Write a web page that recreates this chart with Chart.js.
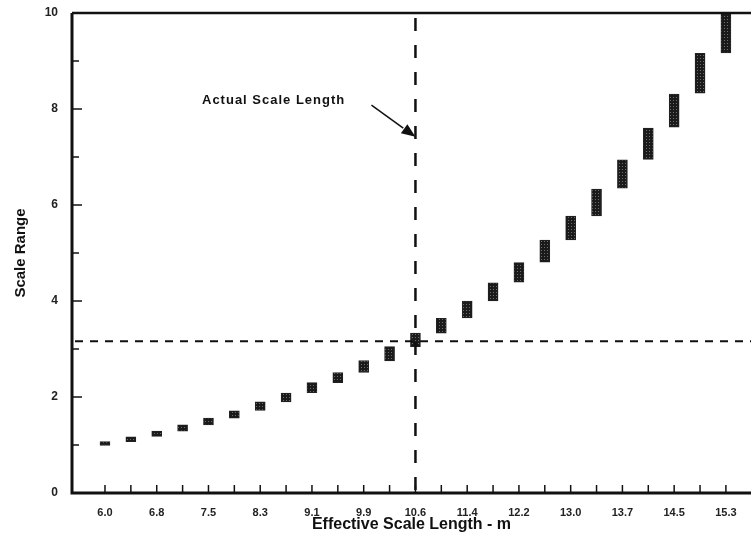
<!DOCTYPE html>
<html>
<head>
<meta charset="utf-8">
<title>Scale Range vs Effective Scale Length</title>
<script src="https://cdn.jsdelivr.net/npm/chart.js@4.4.1/dist/chart.umd.min.js"></script>
<style>
  html, body { margin: 0; padding: 0; background: #fff; }
</style>
</head>
<body>
<canvas id="scaleChart" width="751" height="550"></canvas>
<script>
// tick labels on the x axis, one for every second bar (m)
const lengthLabels = ['6.0', '6.8', '7.5', '8.3', '9.1', '9.9', '10.6', '11.4', '12.2', '13.0', '13.7', '14.5', '15.3'];

// bottom and top of each range bar
const rangeLow  = [0.99, 1.07, 1.18, 1.29, 1.42, 1.56, 1.72, 1.90, 2.09, 2.30, 2.51, 2.75, 3.05,
                   3.33, 3.65, 4.00, 4.39, 4.81, 5.27, 5.77, 6.35, 6.95, 7.62, 8.33, 9.17];
const rangeHigh = [1.07, 1.17, 1.29, 1.42, 1.56, 1.71, 1.90, 2.08, 2.30, 2.51, 2.76, 3.05, 3.33,
                   3.64, 4.00, 4.38, 4.80, 5.27, 5.77, 6.33, 6.94, 7.60, 8.31, 9.16, 10.0];

// actual scale length (bar index of 10.6 m) and the matching range
const actualIndex = 12;
const actualRange = 3.16;

// where the note and its arrow sit, in data units
const noteText = 'Actual Scale Length';
const noteAt = { x: 3.75, y: 8.17 };
const arrowFrom = { x: 10.3, y: 8.08 };
const arrowTo = { x: 12, y: 7.42 };

const FONT = "'Liberation Sans', Arial, sans-serif";

// dark stippled fill like the printed markers
function makeStipple() {
    const c = document.createElement('canvas');
    c.width = 3;
    c.height = 3;
    const g = c.getContext('2d');
    g.fillStyle = '#1a1a1a';
    g.fillRect(0, 0, 3, 3);
    g.fillStyle = '#6e6e6e';
    g.fillRect(1, 1, 1, 1);
    return g.createPattern(c, 'repeat');
}

// frame, inward ticks, dashed reference lines and the note
const framePlugin = {
    id: 'frame',
    afterDatasetsDraw(chart) {
        const ctx = chart.ctx;
        const a = chart.chartArea;
        const xs = chart.scales.x;
        const ys = chart.scales.y;
        ctx.save();
        ctx.strokeStyle = '#111';
        ctx.lineCap = 'butt';

        // dashed lines
        const vx = xs.getPixelForValue(actualIndex);
        ctx.lineWidth = 2.5;
        ctx.setLineDash([13, 14]);
        ctx.beginPath();
        ctx.moveTo(vx, a.top + 5);
        ctx.lineTo(vx, a.bottom);
        ctx.stroke();

        const hy = ys.getPixelForValue(actualRange);
        ctx.lineWidth = 2;
        ctx.setLineDash([8, 7]);
        ctx.beginPath();
        ctx.moveTo(a.left + 3, hy);
        ctx.lineTo(a.right, hy);
        ctx.stroke();
        ctx.setLineDash([]);

        // axes and top border
        ctx.lineWidth = 3;
        ctx.beginPath();
        ctx.moveTo(a.left, a.top);
        ctx.lineTo(a.left, a.bottom);
        ctx.lineTo(a.right, a.bottom);
        ctx.stroke();
        ctx.lineWidth = 2.5;
        ctx.beginPath();
        ctx.moveTo(a.left, a.top);
        ctx.lineTo(a.right, a.top);
        ctx.stroke();

        // tick marks pointing into the plot
        ctx.lineWidth = 1.5;
        for (let i = 0; i < rangeLow.length; i++) {
            const px = xs.getPixelForValue(i);
            ctx.beginPath();
            ctx.moveTo(px, a.bottom);
            ctx.lineTo(px, a.bottom - 8);
            ctx.stroke();
        }
        for (let v = 1; v < 10; v++) {
            const py = ys.getPixelForValue(v);
            ctx.beginPath();
            ctx.moveTo(a.left, py);
            ctx.lineTo(a.left + (v % 2 === 0 ? 10 : 7), py);
            ctx.stroke();
        }

        // note with arrow
        ctx.fillStyle = '#111';
        ctx.font = 'bold 13px ' + FONT;
        ctx.letterSpacing = '1px';
        ctx.textBaseline = 'middle';
        ctx.textAlign = 'left';
        ctx.fillText(noteText, xs.getPixelForValue(noteAt.x), ys.getPixelForValue(noteAt.y));

        const x0 = xs.getPixelForValue(arrowFrom.x), y0 = ys.getPixelForValue(arrowFrom.y);
        const x1 = xs.getPixelForValue(arrowTo.x), y1 = ys.getPixelForValue(arrowTo.y);
        const ang = Math.atan2(y1 - y0, x1 - x0);
        const head = 15;
        ctx.lineWidth = 1.5;
        ctx.beginPath();
        ctx.moveTo(x0, y0);
        ctx.lineTo(x1 - head * Math.cos(ang), y1 - head * Math.sin(ang));
        ctx.stroke();
        ctx.beginPath();
        ctx.moveTo(x1, y1);
        ctx.lineTo(x1 - head * Math.cos(ang - 0.38), y1 - head * Math.sin(ang - 0.38));
        ctx.lineTo(x1 - head * Math.cos(ang + 0.38), y1 - head * Math.sin(ang + 0.38));
        ctx.closePath();
        ctx.fill();
        ctx.restore();
    }
};

document.addEventListener('DOMContentLoaded', function () {
    const ctx = document.getElementById('scaleChart').getContext('2d');

    const bars = rangeLow.map((lo, i) => ({ x: i, y: [lo, rangeHigh[i]] }));

    new Chart(ctx, {
        type: 'bar',
        data: {
            datasets: [{
                label: 'Scale Range',
                data: bars,
                backgroundColor: makeStipple(),
                borderColor: '#222',
                borderWidth: 1,
                borderSkipped: false,
                barThickness: 10
            }]
        },
        options: {
            responsive: false,
            animation: false,
            layout: { padding: { top: 13, right: 0, bottom: 0, left: 0 } },
            plugins: {
                legend: { display: false },
                tooltip: { enabled: false }
            },
            scales: {
                x: {
                    type: 'linear',
                    min: -1.275,
                    max: 24.97,
                    offset: false,
                    grid: { display: false, drawTicks: false },
                    border: { display: false },
                    ticks: {
                        stepSize: 1,
                        includeBounds: false,
                        autoSkip: false,
                        maxRotation: 0,
                        padding: 13,
                        color: '#222',
                        font: { family: FONT, size: 11, weight: 'bold' },
                        callback: function (v) {
                            return (Number.isInteger(v) && v >= 0 && v % 2 === 0) ? lengthLabels[v / 2] : '';
                        }
                    },
                    title: {
                        display: true,
                        text: 'Effective Scale Length - m',
                        color: '#111',
                        font: { family: FONT, size: 16, weight: 'bold' },
                        padding: { top: 0, bottom: 16 }
                    },
                    afterFit: function (s) { s.height = 57; }
                },
                y: {
                    min: 0,
                    max: 10,
                    grid: { display: false, drawTicks: false },
                    border: { display: false },
                    ticks: {
                        stepSize: 2,
                        padding: 14,
                        color: '#222',
                        font: { family: FONT, size: 12, weight: 'bold' }
                    },
                    title: {
                        display: true,
                        text: 'Scale Range',
                        color: '#111',
                        font: { family: FONT, size: 15, weight: 'bold' },
                        padding: { top: 12, bottom: 0 }
                    },
                    afterFit: function (s) {
                        s.width = 72;
                        s.paddingTop = 0;
                        s.paddingBottom = 0;
                    }
                }
            }
        },
        plugins: [framePlugin]
    });
});
</script>
</body>
</html>
